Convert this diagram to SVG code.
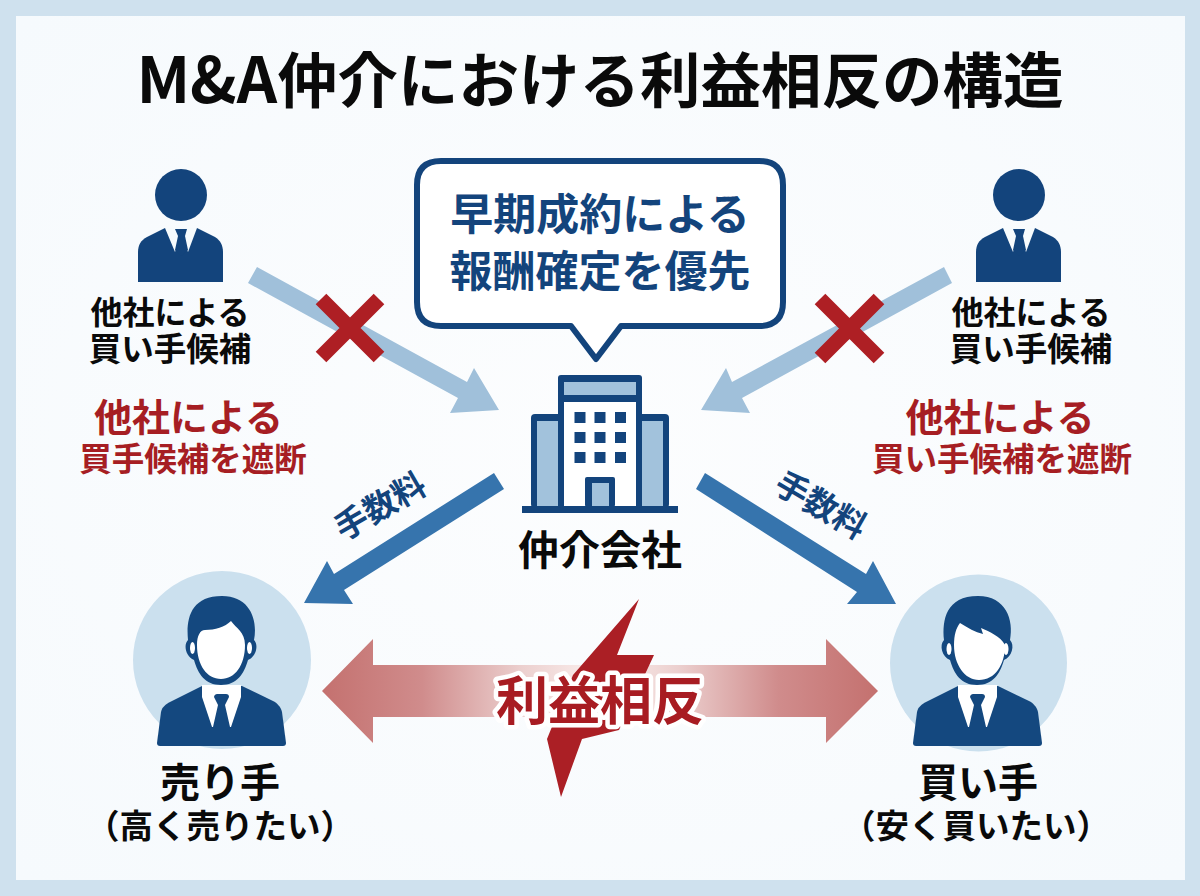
<svg xmlns="http://www.w3.org/2000/svg" width="1200" height="896" viewBox="0 0 1200 896">
<defs>
<radialGradient id="bg" cx="50%" cy="50%" r="70%"><stop offset="0" stop-color="#fcfdfe"/><stop offset="1" stop-color="#f6fafd"/></radialGradient>
<linearGradient id="conflict" x1="322" y1="0" x2="878" y2="0" gradientUnits="userSpaceOnUse"><stop offset="0" stop-color="#c4716f"/><stop offset="0.18" stop-color="#d08c8c"/><stop offset="0.36" stop-color="#ecd0cf"/><stop offset="0.5" stop-color="#fbf0ee"/><stop offset="0.64" stop-color="#ecd0cf"/><stop offset="0.82" stop-color="#d08c8c"/><stop offset="1" stop-color="#c4716f"/></linearGradient>
<g id="small-person">
<path class="navy" d="M138,282V252C138,245 141,240 147,237L165,228H197L215,237C220,240 223,245 223,252V282Z"/>
<circle class="navy" cx="181" cy="195" r="26"/>
<path fill="#f7fbfd" d="M165,228H197L188,252L181,236L175,252Z"/>
<path class="navy" d="M175,229H187L185,236L188,250L181,256L175,250L178,236Z"/>
</g>
<g id="suit">
<path class="navy2" d="M157,743L161,712C162,707 166,704 170,702L202,686H242L273,701C277,703 281,707 282,712L286,743C286,745 285,746 283,746H160C158,746 157,745 157,743Z"/>
<path fill="#fff" d="M202,685H241V697L231,727H212L202,697Z"/>
<path class="navy2" d="M214,697C214,695 216,694 217,694H226C228,694 229,695 229,697L225,705L230,727H213L218,705Z"/>
<path class="navy2" d="M221,685C205,685 198,674 194,660C186,657 183,645 188,640C186,620 190,596 222,596C250,596 258,620 254,640C259,645 256,657 248,660C244,674 237,685 221,685Z"/>
</g>
</defs>
<style>
text{font-family:"Noto Sans CJK JP","Noto Sans",sans-serif;font-weight:700;text-anchor:middle}
.navy{fill:#13447c}
.navy2{fill:#14487f}
.ink{fill:#0a0a0a}
.red{fill:#a61e23}
.blue{fill:#13447c}
.fee{font-size:33px}
.light{fill:#a2c2dc}
.cross{stroke:#ae1f24;stroke-width:15;fill:none}
.faint{fill:#a0c0da}
.strong{fill:#3674ad}
</style>
<rect width="1200" height="896" fill="#cfe1ee"/>
<rect x="16" y="16" width="1169" height="864" fill="url(#bg)"/>
<text id="title" x="600" y="103" class="ink" font-size="60.5"><tspan font-size="63">M&amp;A</tspan>仲介における利益相反の構造</text>

<g id="connectors">
<path class="faint" d="M257,267L467,382L474,368L499,410L450,413L458,398L248,283Z"/>
<path class="faint" d="M944,267L732,382L726,368L701,410L750,413L742,398L952,283Z"/>
<path class="strong" d="M494,473L334,574L327,561L304,603L353,604L344,590L504,489Z"/>
<path class="strong" d="M705,473L866,574L873,561L896,604L847,604L857,592L696,489Z"/>
<path fill="url(#conflict)" d="M322,691L373,639V665H826V639L878,691L826,743V717H373V743Z"/>
<path class="cross" d="M321,299L379,357M379,299L321,357"/>
<path class="cross" d="M820,299L879,358M879,299L820,358"/>
</g>

<g id="bubble">
<path fill="#fff" stroke="#13447c" stroke-width="6" stroke-linejoin="round" d="M441,161H759Q783,161 783,185V302Q783,326 759,326H621L596,359L571,326H441Q417,326 417,302V185Q417,161 441,161Z"/>
<text x="600" y="230" class="blue" font-size="43">早期成約による</text>
<text x="600" y="287" class="blue" font-size="43">報酬確定を優先</text>
</g>

<g id="competitor-left">
<use href="#small-person"/>
<text x="170" y="324" class="ink" font-size="32">他社による</text>
<text x="170" y="361" class="ink" font-size="32.5">買い手候補</text>
</g>
<g id="competitor-right">
<use href="#small-person" x="838"/>
<text x="1031" y="324" class="ink" font-size="32">他社による</text>
<text x="1031" y="361" class="ink" font-size="32.5">買い手候補</text>
</g>

<g id="note-left">
<text x="188.5" y="431" class="red" font-size="38">他社による</text>
<text x="193" y="471" class="red" font-size="32.5">買手候補を遮断</text>
</g>
<g id="note-right">
<text x="1000" y="431" class="red" font-size="38">他社による</text>
<text x="1002" y="471" class="red" font-size="32.5">買い手候補を遮断</text>
</g>

<g id="broker">
<rect class="navy" x="522" y="506" width="156" height="7"/>
<rect class="navy" x="531" y="414" width="138" height="94" rx="4"/>
<rect class="light" x="537" y="421" width="21" height="85"/>
<rect class="light" x="642" y="421" width="21" height="85"/>
<rect class="navy" x="558" y="375" width="84" height="133" rx="3"/>
<rect class="light" x="564" y="382" width="72" height="13"/>
<rect fill="#fff" x="564" y="402" width="72" height="104"/>
<g class="navy">
<rect x="574.5" y="412" width="11" height="11"/><rect x="594.5" y="412" width="11" height="11"/><rect x="615" y="412" width="11" height="11"/>
<rect x="574.5" y="432" width="11" height="11"/><rect x="594.5" y="432" width="11" height="11"/><rect x="615" y="432" width="11" height="11"/>
<rect x="574.5" y="452" width="11" height="11"/><rect x="594.5" y="452" width="11" height="11"/><rect x="615" y="452" width="11" height="11"/>
</g>
<rect class="navy" x="585" y="477" width="30" height="30" rx="2"/>
<rect class="light" x="592" y="483" width="17" height="23"/>
<text x="600" y="565" class="ink" font-size="41">仲介会社</text>
</g>

<text id="fee-left" class="fee blue" transform="translate(380,506) rotate(-30)" y="12">手数料</text>
<text id="fee-right" class="fee blue" transform="translate(821,505) rotate(30)" y="12">手数料</text>

<g id="seller">
<circle cx="222" cy="660" r="89" fill="#cbe0ee"/>
<use href="#suit"/>
<path fill="#fff" d="M197,645C197,636 200,630 205,630C215,630 225,627 231,621C236,628 245,632 245,645C245,665 235,679 221,679C207,679 197,665 197,645Z"/>
<ellipse cx="192.5" cy="648" rx="2.5" ry="6" fill="#fff"/>
<ellipse cx="249.5" cy="648" rx="2.5" ry="6" fill="#fff"/>
<text x="220" y="797" class="ink" font-size="40">売り手</text>
<text x="220" y="838" class="ink" font-size="33.5">（高く売りたい）</text>
</g>
<g id="buyer">
<circle cx="978.5" cy="663" r="88.5" fill="#cbe0ee"/>
<use href="#suit" x="756"/>
<path fill="#fff" d="M954,645C954,635 956,628 960,623C968,628 975,632 983,634L981,628C990,632 1000,636 1005,645C1005,665 995,680 979,680C965,680 954,665 954,645Z"/>
<ellipse cx="949" cy="649" rx="2.5" ry="6" fill="#fff"/>
<ellipse cx="1006" cy="649" rx="2.5" ry="6" fill="#fff"/>
<text x="978" y="797" class="ink" font-size="40">買い手</text>
<text x="976" y="838" class="ink" font-size="33.5">（安く買いたい）</text>
</g>

<g id="conflict-label">
<path fill="#ab1f25" d="M639,599L617,655H654L619,730L582,739L561,797L547,739L573,675Z"/>
<text x="600" y="720" font-size="52" fill="#a81c22" stroke="#fff" stroke-width="9" stroke-linejoin="round" paint-order="stroke">利益相反</text>
</g>
</svg>
